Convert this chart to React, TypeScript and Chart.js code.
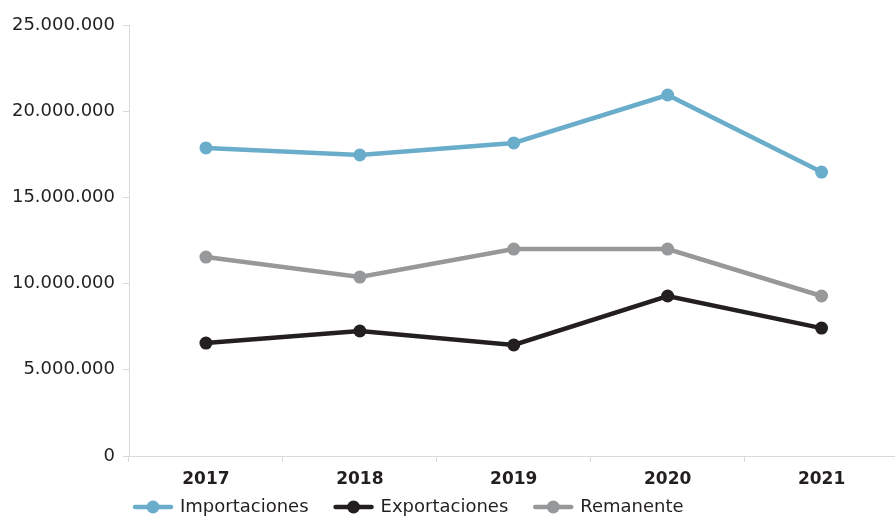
import React, { useEffect, useRef } from "react";
import { Chart, registerables } from "chart.js";

Chart.register(...registerables);

const categories = ["2017", "2018", "2019", "2020", "2021"];
const importaciones = [17870000, 17460000, 18160000, 20940000, 16470000];
const exportaciones = [6550000, 7250000, 6440000, 9280000, 7420000];
const remanente = [11540000, 10380000, 12000000, 12000000, 9280000];
const seriesNames = ["Importaciones", "Exportaciones", "Remanente"];
const seriesColors = ["#6aadcb", "#231f20", "#97989a"];

const FONT = "'DejaVu Sans'";

function formatMiles(v: number): string {
  return Math.round(v)
    .toString()
    .replace(/\B(?=(\d{3})+(?!\d))/g, ".");
}

const legendPlugin = {
  id: "customLegend",
  afterDraw(chart: any) {
    const ctx = chart.ctx;
    ctx.save();
    ctx.font = `18px ${FONT}`;
    ctx.textBaseline = "middle";
    ctx.textAlign = "left";
    let x = 133;
    const y = 507;
    chart.data.datasets.forEach((ds: any) => {
      const color = ds.borderColor;
      ctx.strokeStyle = color;
      ctx.lineWidth = 4.5;
      ctx.lineCap = "round";
      ctx.beginPath();
      ctx.moveTo(x + 2, y);
      ctx.lineTo(x + 38, y);
      ctx.stroke();
      ctx.fillStyle = color;
      ctx.beginPath();
      ctx.arc(x + 20, y, 6.5, 0, Math.PI * 2);
      ctx.fill();
      ctx.fillStyle = "#231f20";
      const tx = x + 47;
      ctx.fillText(ds.label, tx, y);
      x = tx + ctx.measureText(ds.label).width + 25;
    });
    ctx.restore();
  },
};

export default function App() {
  const ref = useRef<HTMLCanvasElement | null>(null);
  useEffect(() => {
    document.body.style.margin = "0";
    const canvas = ref.current!;
    const data = [importaciones, exportaciones, remanente];
    const chart = new Chart(canvas, {
      type: "line",
      data: {
        labels: categories,
        datasets: data.map((d, i) => ({
          label: seriesNames[i],
          data: d,
          borderColor: seriesColors[i],
          backgroundColor: seriesColors[i],
          pointBackgroundColor: seriesColors[i],
          pointBorderWidth: 0,
          pointRadius: 6.5,
          borderWidth: 4.5,
          tension: 0,
        })),
      },
      options: {
        responsive: false,
        animation: false,
        layout: { padding: { top: 25, left: 0, right: 0, bottom: 0 } },
        plugins: {
          legend: { display: false },
          tooltip: { enabled: false },
        },
        scales: {
          x: {
            offset: true,
            grid: {
              offset: true,
              drawOnChartArea: false,
              drawTicks: true,
              tickLength: 6,
              color: "#d9d9d9",
            },
            border: { color: "#d9d9d9", width: 1 },
            ticks: {
              color: "#231f20",
              padding: 7,
              font: { family: FONT, size: 17, weight: "bold" },
            },
            afterFit: (s: any) => {
              s.height = 61;
            },
          },
          y: {
            min: 0,
            max: 25000000,
            grid: {
              drawOnChartArea: false,
              drawTicks: true,
              tickLength: 6,
              color: "#d9d9d9",
            },
            border: { color: "#d9d9d9", width: 1 },
            ticks: {
              stepSize: 5000000,
              color: "#231f20",
              padding: 8,
              font: { family: FONT, size: 18 },
              callback: (v: any) => formatMiles(Number(v)),
            },
            afterFit: (s: any) => {
              s.width = 129;
            },
          },
        },
      },
      plugins: [legendPlugin],
    });
    return () => chart.destroy();
  }, []);
  return (
    <div
      style={{
        position: "absolute",
        left: 0,
        top: 0,
        width: 895,
        height: 517,
        overflow: "hidden",
        background: "#ffffff",
      }}
    >
      <canvas ref={ref} width={905} height={517} style={{ display: "block" }} />
    </div>
  );
}
